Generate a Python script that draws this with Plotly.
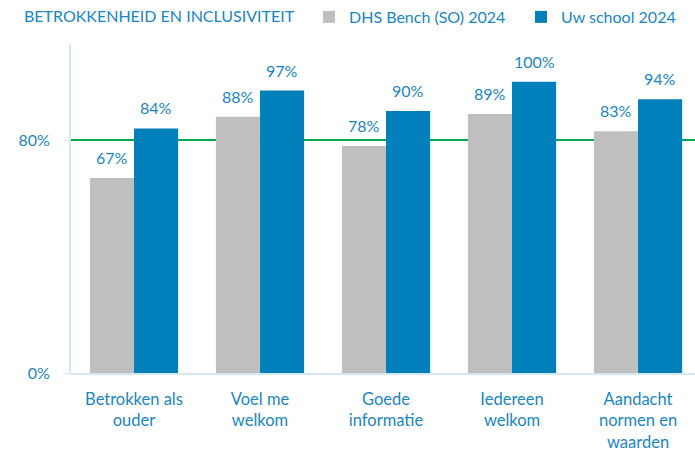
import plotly.graph_objects as go

categories = ["Betrokken als<br>ouder", "Voel me<br>welkom", "Goede<br>informatie", "Iedereen<br>welkom", "Aandacht<br>normen en<br>waarden"]
bench = [67, 88, 78, 89, 83]
school = [84, 97, 90, 100, 94]
series_names = ["DHS Bench (SO) 2024", "Uw school 2024"]
norm = 80
title_text = "BETROKKENHEID EN INCLUSIVITEIT"

BLUE_TXT = "#1a86c2"
GREY = "#bfbfbf"
BLUE = "#0080ba"
FONT = "Lato"

W, H = 695, 452
ML, MT, MB, MR = 71, 44, 76, 0
PW = W - ML - MR

fig = go.Figure()
fig.add_bar(x=categories, y=bench, name=series_names[0], legend="legend",
            marker=dict(color=GREY, line=dict(width=0)))
fig.add_bar(x=categories, y=school, name=series_names[1], legend="legend2",
            marker=dict(color=BLUE, line=dict(width=0)))

fig.add_shape(type="line", xref="paper", x0=0, x1=1, yref="y", y0=norm, y1=norm,
              line=dict(color="#00a650", width=2), layer="below")

# value labels
for vals, off in [(bench, -0.175), (school, 0.175)]:
    for i, v in enumerate(vals):
        fig.add_annotation(x=i + off, y=v, text=f"{v}%", showarrow=False, xref="x", yref="y",
                           yanchor="bottom", yshift=9, font=dict(family=FONT, size=16, color=BLUE_TXT))

leg_common = dict(orientation="h", xanchor="left", xref="container", yref="container", y=1.0,
                  yanchor="top", font=dict(family=FONT, size=16, color=BLUE_TXT), itemwidth=30,
                  bgcolor="rgba(0,0,0,0)")

fig.update_layout(
    width=W, height=H,
    margin=dict(l=ML, r=MR, t=MT, b=MB),
    paper_bgcolor="white", plot_bgcolor="white",
    barmode="group", bargap=0.30, bargroupgap=0,
    font=dict(family=FONT, size=16, color=BLUE_TXT),
    showlegend=True,
    legend=dict(x=309 / W, **leg_common),
    legend2=dict(x=521 / W, **leg_common),
    annotations=list(fig.layout.annotations) + [
        dict(text=title_text, xref="paper", yref="paper", x=(22 - ML) / PW, y=1, yshift=MT - 4,
             xanchor="left", yanchor="top", showarrow=False,
             font=dict(family=FONT, size=16, color=BLUE_TXT))
    ],
)
fig.update_xaxes(range=[-0.5, 4.452], showline=True, linecolor="#d6e6f2", linewidth=2,
                 tickfont=dict(family=FONT, size=16.5, color=BLUE_TXT), ticks="", ticklabelstandoff=10,
                 showgrid=False, zeroline=False)
fig.update_yaxes(range=[0, 113.0], tickvals=[0, 80], ticktext=["0%", "80%"], showline=True,
                 linecolor="#d6e6f2", linewidth=2, ticks="outside", ticklen=6, tickcolor="#d6e6f2",
                 tickfont=dict(family=FONT, size=16, color=BLUE_TXT), showgrid=False, zeroline=False,
                 ticklabelstandoff=10)

fig.write_html("out.html", config={"displayModeBar": False},
               post_script="document.body.style.margin='0';")
